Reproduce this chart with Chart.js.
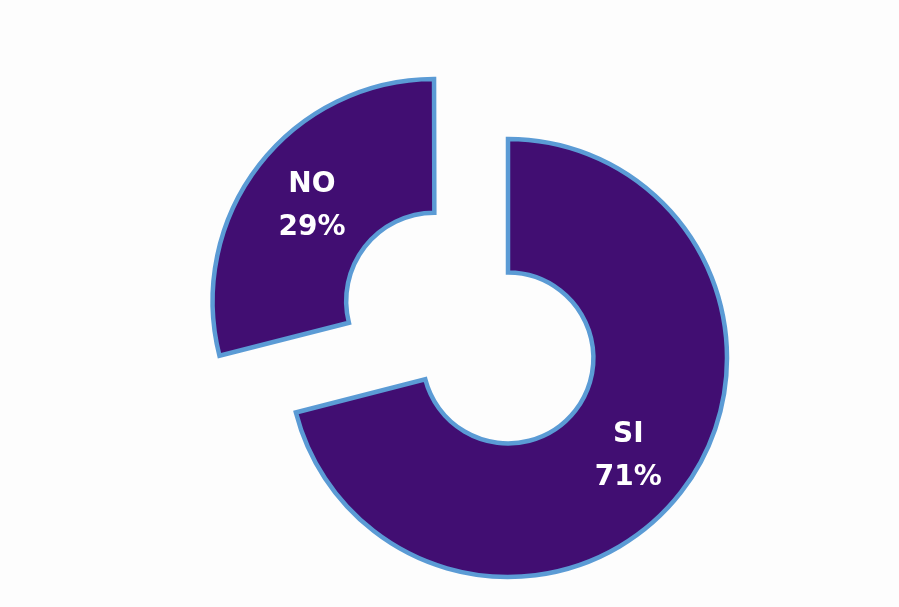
<!DOCTYPE html>
<html>
<head>
<meta charset="utf-8">
<script src="https://cdn.jsdelivr.net/npm/chart.js@4/dist/chart.umd.min.js"></script>
<style>
    html, body { margin: 0; padding: 0; background: #fdfdfd; }
    #wrap { width: 899px; height: 607px; }
</style>
</head>
<body>
<div id="wrap"><canvas id="pieChart"></canvas></div>
<script>
const categories = ['SI', 'NO'];
const values = [71, 29];
const offsets = [0, 372];

// white labels in the middle of each slice: name + percent
const sliceLabels = {
    id: 'sliceLabels',
    afterDatasetsDraw(chart) {
        const ctx = chart.ctx;
        const meta = chart.getDatasetMeta(0);
        const total = values.reduce((a, b) => a + b, 0);
        ctx.save();
        ctx.fillStyle = '#ffffff';
        ctx.font = 'bold 28px "DejaVu Sans"';
        ctx.textAlign = 'center';
        ctx.textBaseline = 'middle';
        meta.data.forEach((arc, i) => {
            const p = arc.getProps(['x', 'y', 'startAngle', 'endAngle', 'innerRadius', 'outerRadius', 'circumference']);
            const half = (p.startAngle + p.endAngle) / 2;
            const off = (arc.options.offset || 0) / 4;
            const fix = 1 - Math.sin(Math.min(Math.PI, p.circumference));
            const r = (p.innerRadius + p.outerRadius) / 2 + off * (1 + fix);
            const x = p.x + Math.cos(half) * r;
            const y = p.y + Math.sin(half) * r + (i === 0 ? 4 : 0);
            const pct = Math.round(values[i] / total * 100) + '%';
            ctx.fillText(categories[i], x, y - 21);
            ctx.fillText(pct, x, y + 22);
        });
        ctx.restore();
    }
};

const ctxPie = document.getElementById('pieChart').getContext('2d');
new Chart(ctxPie, {
    type: 'doughnut',
    data: {
        labels: categories,
        datasets: [{
            data: values,
            backgroundColor: '#410e72',
            borderColor: '#5b9bd5',
            borderWidth: 4.5,
            borderJoinStyle: 'miter',
            offset: offsets,
            hoverOffset: 0
        }]
    },
    options: {
        responsive: true,
        maintainAspectRatio: false,
        animation: false,
        radius: 219,
        cutout: '39%',
        layout: {
            padding: { left: 117, top: 109, right: 0, bottom: 0 }
        },
        plugins: {
            legend: { display: false },
            tooltip: { enabled: false }
        }
    },
    plugins: [sliceLabels]
});
</script>
</body>
</html>
